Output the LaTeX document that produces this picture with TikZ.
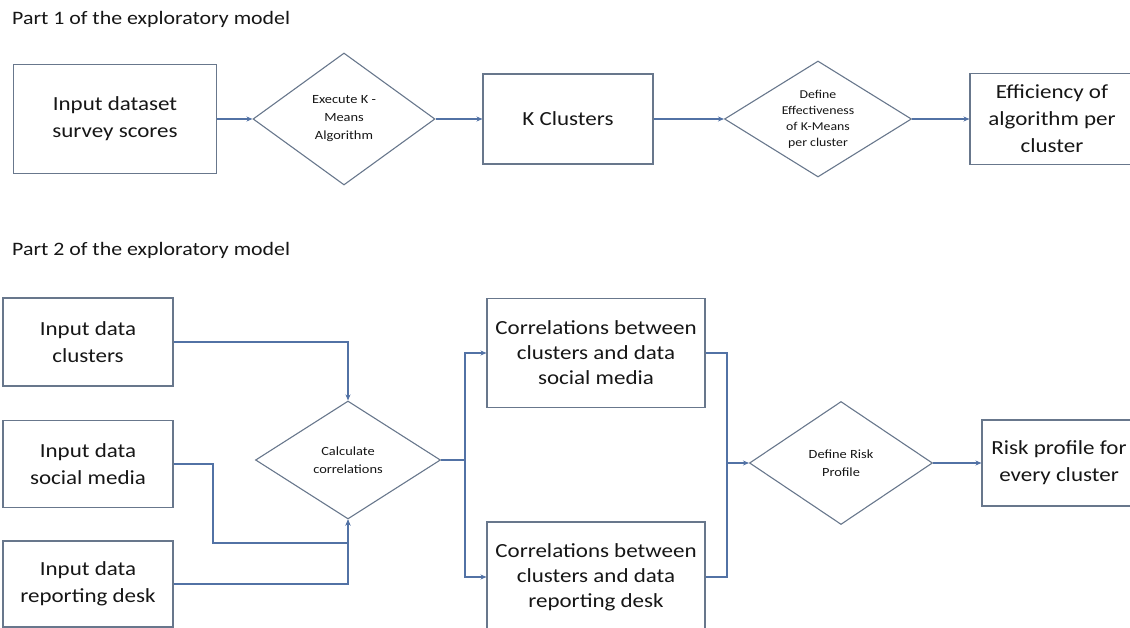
\documentclass[tikz,border=0pt]{standalone}
\usepackage{fontspec}
\setmainfont{Carlito}[FakeStretch=1.15]
\usetikzlibrary{
	arrows.meta,
	shapes.geometric,
	positioning
}
\definecolor{BoxLine}{RGB}{104,119,140}
\definecolor{LinkBlue}{RGB}{82,114,165}
\definecolor{InkGray}{RGB}{22,22,22}

\tikzset{
	stagebox/.style={draw=BoxLine, line width=1.1pt, align=center, inner sep=0pt,
		font=\fontsize{20}{27}\selectfont, text=InkGray},
	choice/.style={draw=BoxLine, line width=1.1pt, shape=diamond, aspect=1.6, inner sep=0pt,
		align=center, font=\fontsize{12.5}{18}\selectfont, text=InkGray},
	link/.style={draw=LinkBlue, line width=1.1pt},
	flow/.style={link, -{Stealth[length=6pt,width=5pt]}},
	parttitle/.style={anchor=base west, inner sep=0pt, font=\fontsize{19}{23}\selectfont, text=InkGray}
}

\begin{document}
\begin{tikzpicture}[x=1pt, y=-1pt]
			\useasboundingbox (0,0) rectangle (1130,628);
			% part 1
			\node[parttitle] (title1) at (12,25) {Part 1 of the exploratory model};
			\node[stagebox, minimum width=203pt, minimum height=109pt] (survey) at (115,119) {Input dataset\\survey scores};
			\node[choice, minimum width=182pt, minimum height=132pt] (kmeans) at (344,119) {Execute K -\\Means\\Algorithm};
			\node[stagebox, minimum width=170pt, minimum height=90pt] (clusters) at (568,119) {K Clusters};
			\node[choice, minimum width=187pt, minimum height=116pt, font=\fontsize{12}{16}\selectfont] (effect) at (818,119) {Define\\Effectiveness\\of K-Means\\per cluster};
			\node[stagebox, minimum width=164pt, minimum height=91pt] (efficiency) at (1052,119) {Efficiency of\\algorithm per\\cluster};
			\draw[flow] (survey) -- (kmeans);
			\draw[flow] (kmeans) -- (clusters);
			\draw[flow] (clusters) -- (effect);
			\draw[flow] (effect) -- (efficiency);
			% part 2
			\node[parttitle] (title2) at (12,256) {Part 2 of the exploratory model};
			\node[stagebox, minimum width=170pt, minimum height=88pt] (inclusters) at (88,342) {Input data\\clusters};
			\node[stagebox, minimum width=170pt, minimum height=87pt] (insocial) at (88,464) {Input data\\social media};
			\node[stagebox, minimum width=170pt, minimum height=86pt] (indesk) at (88,584) {Input data\\reporting desk};
			\node[choice, minimum width=185pt, minimum height=118pt] (correl) at (348,460) {Calculate\\correlations};
			\node[stagebox, minimum width=218pt, minimum height=109pt, font=\fontsize{20}{25}\selectfont] (corsocial) at (596,353) {Correlations between\\clusters and data\\social media};
			\node[stagebox, minimum width=218pt, minimum height=110pt, font=\fontsize{20}{25}\selectfont] (cordesk) at (596,577) {Correlations between\\clusters and data\\reporting desk};
			\node[choice, minimum width=183pt, minimum height=123pt] (risk) at (841,463) {Define Risk\\Profile};
			\node[stagebox, minimum width=154pt, minimum height=86pt] (profile) at (1059,463) {Risk profile for\\every cluster};
			\coordinate (socbend) at (213,543);
			\coordinate (fork) at (465,460);
			\coordinate (join) at (727,463);
			\draw[flow] (inclusters.east) -| (correl.north);
			\draw[flow] (insocial.east) -| (socbend) -| (correl.south);
			\draw[flow] (indesk.east) -| (correl.south);
			\draw[link] (correl.east) -- (fork);
			\draw[flow] (fork) |- (corsocial.west);
			\draw[flow] (fork) |- (cordesk.west);
			\draw[link] (corsocial.east) -| (join);
			\draw[link] (cordesk.east) -| (join);
			\draw[flow] (join) -- (risk.west);
			\draw[flow] (risk.east) -- (profile.west);
		\end{tikzpicture}
\end{document}
